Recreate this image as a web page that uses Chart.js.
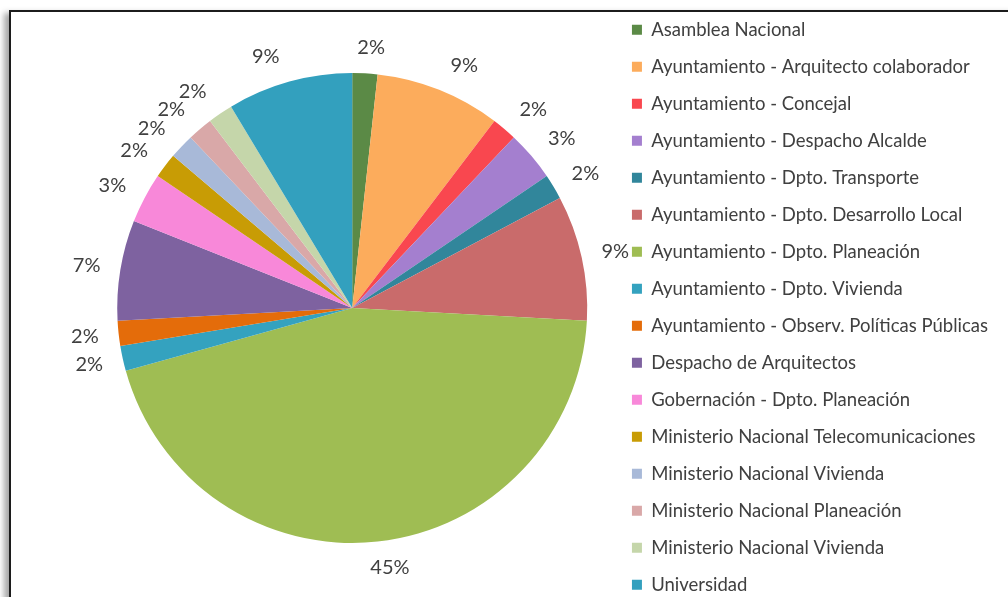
<!DOCTYPE html>
<html>
<head>
<meta charset="utf-8">
<script src="https://cdn.jsdelivr.net/npm/chart.js@4.4.1/dist/chart.umd.min.js"></script>
<style>
  html, body { margin: 0; padding: 0; background: #fff; overflow: hidden; }
  #frame {
    position: absolute; left: 9px; top: 10px; width: 1100px; height: 700px;
    border: 2px solid #1c1c1c;
    box-shadow: -5px 3px 6px rgba(0, 0, 0, 0.35);
  }
  #wrap { position: absolute; left: 0; top: 0; width: 1008px; height: 620px; }
</style>
</head>
<body>
<div id="frame"></div>
<div id="wrap"><canvas id="pieChart" width="1008" height="620"></canvas></div>
<script>
// categorias y numero de respuestas (los % se calculan sobre el total)
const categorias = [
  "Asamblea Nacional",
  "Ayuntamiento - Arquitecto colaborador",
  "Ayuntamiento - Concejal",
  "Ayuntamiento - Despacho Alcalde",
  "Ayuntamiento - Dpto. Transporte",
  "Ayuntamiento - Dpto. Desarrollo Local",
  "Ayuntamiento - Dpto. Planeación",
  "Ayuntamiento - Dpto. Vivienda",
  "Ayuntamiento - Observ. Políticas Públicas",
  "Despacho de Arquitectos",
  "Gobernación - Dpto. Planeación",
  "Ministerio Nacional Telecomunicaciones",
  "Ministerio Nacional Vivienda",
  "Ministerio Nacional Planeación",
  "Ministerio Nacional Vivienda",
  "Universidad"
];
const respuestas = [1, 5, 1, 2, 1, 5, 26, 1, 1, 4, 2, 1, 1, 1, 1, 5];
const colores = [
  "#5b8a46", "#fcac5c", "#f9474f", "#a47fcf", "#31869b", "#c96b6b",
  "#9fbd53", "#34a2bf", "#e46c0a", "#7e62a0", "#f888d9", "#c89c05",
  "#a8b9d8", "#d9a8a8", "#c5d6aa", "#33a0be"
];

const fuente = "Lato, 'Open Sans', sans-serif";
const colorTexto = "#404040";

const total = respuestas.reduce((a, b) => a + b, 0);
const porcentajes = respuestas.map((v) => Math.round((v / total) * 100));

// etiquetas de % fuera de cada porcion
const etiquetasFuera = {
  id: "etiquetasFuera",
  afterDatasetsDraw(chart) {
    const ctx = chart.ctx;
    const meta = chart.getDatasetMeta(0);
    ctx.save();
    ctx.font = "20px " + fuente;
    ctx.fillStyle = colorTexto;
    ctx.textAlign = "center";
    ctx.textBaseline = "middle";
    meta.data.forEach((arc, i) => {
      const p = arc.getProps(["x", "y", "startAngle", "endAngle", "outerRadius"], true);
      const mid = (p.startAngle + p.endAngle) / 2;
      const cos = Math.cos(mid);
      const sin = Math.sin(mid);
      const texto = porcentajes[i] + "%";
      const w = ctx.measureText(texto).width;
      const r = p.outerRadius + 14;
      const lim = w / 2 + 6;
      const dx = Math.max(-lim, Math.min(lim, cos * 100));
      ctx.fillText(texto, p.x + cos * r + dx, p.y + sin * (r + 12));
    });
    ctx.restore();
  }
};

const ctx = document.getElementById("pieChart").getContext("2d");
new Chart(ctx, {
  type: "pie",
  data: {
    labels: categorias,
    datasets: [
      {
        data: respuestas,
        backgroundColor: colores,
        borderWidth: 0,
        radius: 235
      }
    ]
  },
  options: {
    responsive: false,
    animation: false,
    layout: { padding: { left: 91, right: 10, top: 2, bottom: 6 } },
    plugins: {
      tooltip: { enabled: false },
      legend: {
        position: "right",
        align: "start",
        labels: {
          boxWidth: 10,
          boxHeight: 10,
          padding: 18.5,
          color: colorTexto,
          font: { family: fuente, size: 18.5 }
        }
      }
    }
  },
  plugins: [etiquetasFuera]
});
</script>
</body>
</html>
